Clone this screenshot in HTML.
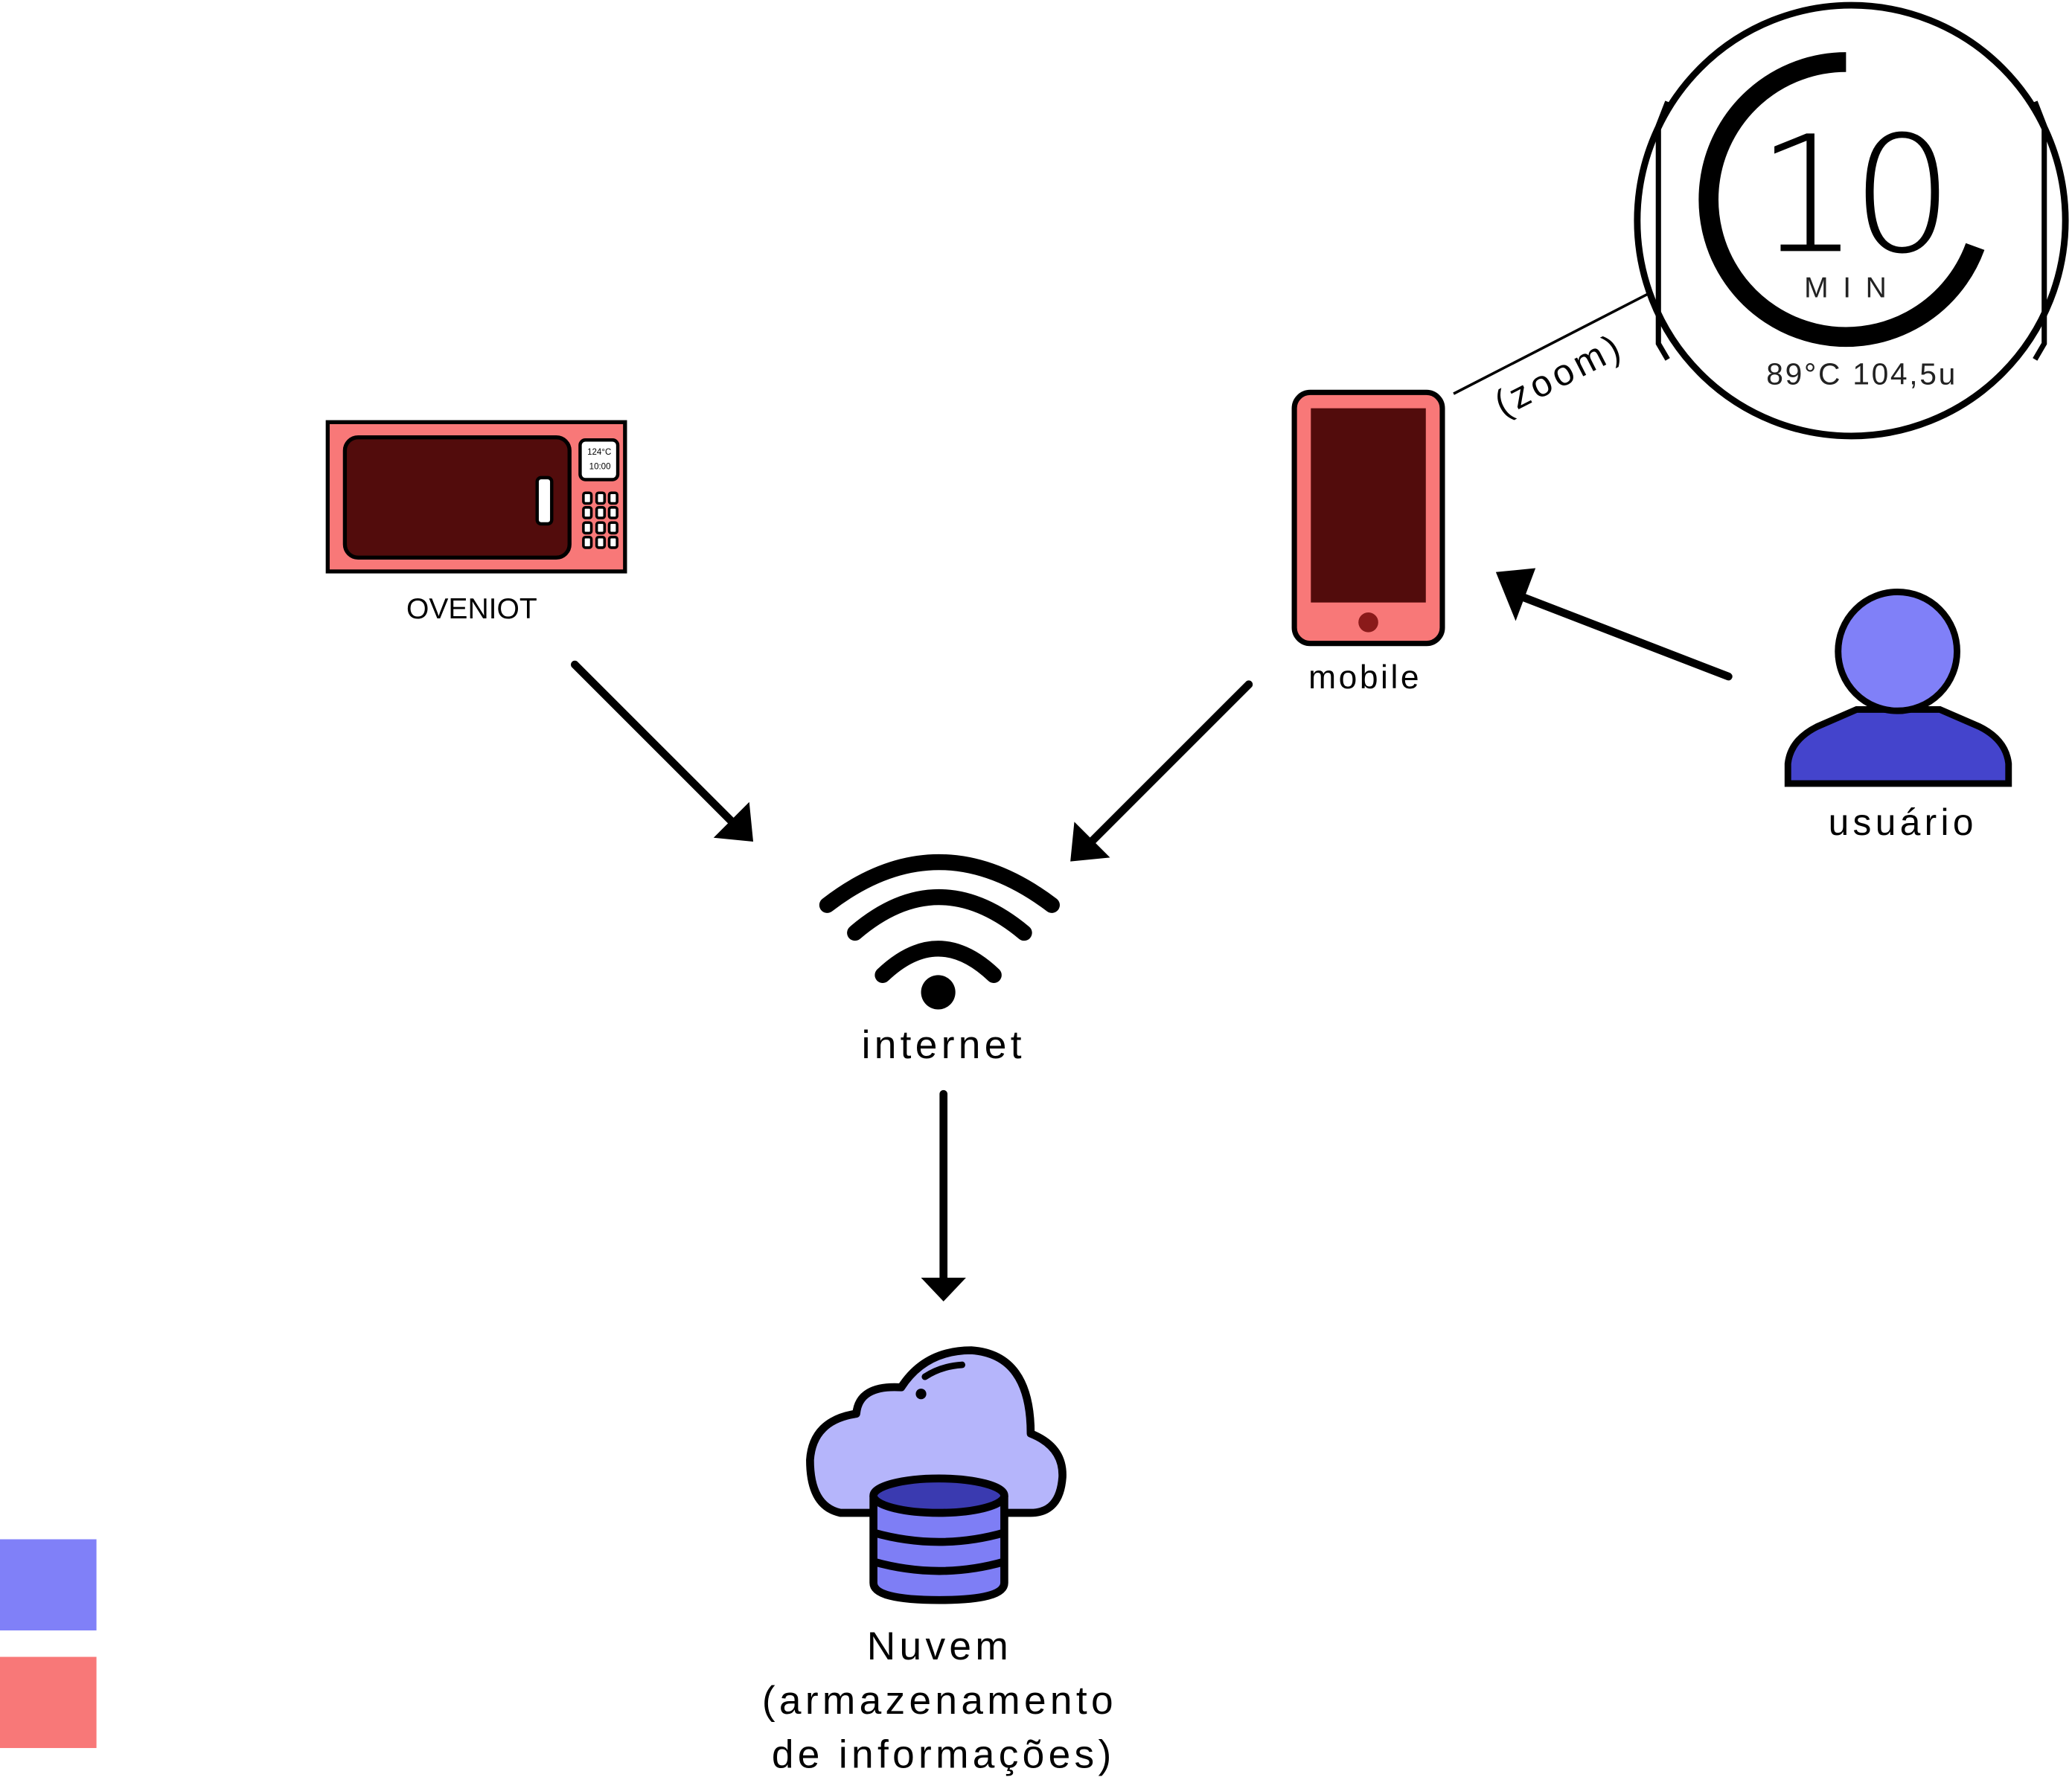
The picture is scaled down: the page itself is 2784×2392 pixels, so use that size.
<!DOCTYPE html>
<html><head><meta charset="utf-8"><style>
html,body{margin:0;padding:0;background:#fff;}
svg{display:block;}
text{font-family:"Liberation Sans",sans-serif;}
</style></head><body>
<svg width="2784" height="2392" viewBox="0 0 1568 1347.2" preserveAspectRatio="none" xmlns="http://www.w3.org/2000/svg">
<rect width="1568" height="1347.2" fill="#fff"/>
<!-- legend -->
<rect x="0" y="1165" width="73" height="69" fill="#8080f8"/>
<rect x="0" y="1254" width="73" height="69" fill="#f87878"/>

<!-- oven -->
<rect x="248" y="319.5" width="225" height="113" fill="#f87878" stroke="#000" stroke-width="3"/>
<rect x="261" y="331" width="170" height="91" rx="10" fill="#520c0c" stroke="#000" stroke-width="3"/>
<rect x="406.5" y="361.5" width="11" height="35" rx="3" fill="#fff" stroke="#000" stroke-width="2.5"/>
<rect x="439" y="333" width="28.5" height="30" rx="4" fill="#fff" stroke="#000" stroke-width="2.5"/>
<text x="453.5" y="344" font-size="6.5" text-anchor="middle">124°C</text>
<text x="454" y="355" font-size="6.5" text-anchor="middle">10:00</text>
<g fill="#fff" stroke="#000" stroke-width="2">
<rect x="441.5" y="373" width="6" height="8" rx="1.5"/><rect x="451.5" y="373" width="6" height="8" rx="1.5"/><rect x="461" y="373" width="6" height="8" rx="1.5"/>
<rect x="441.5" y="384" width="6" height="8" rx="1.5"/><rect x="451.5" y="384" width="6" height="8" rx="1.5"/><rect x="461" y="384" width="6" height="8" rx="1.5"/>
<rect x="441.5" y="395.5" width="6" height="8" rx="1.5"/><rect x="451.5" y="395.5" width="6" height="8" rx="1.5"/><rect x="461" y="395.5" width="6" height="8" rx="1.5"/>
<rect x="441.5" y="406.5" width="6" height="8" rx="1.5"/><rect x="451.5" y="406.5" width="6" height="8" rx="1.5"/><rect x="461" y="406.5" width="6" height="8" rx="1.5"/>
</g>
<text x="357" y="468" font-size="22" text-anchor="middle">OVENIOT</text>

<!-- phone -->
<rect x="979.5" y="297" width="112" height="190" rx="12" fill="#f87878" stroke="#000" stroke-width="4"/>
<rect x="992" y="309" width="87" height="147" fill="#520c0c"/>
<circle cx="1035.5" cy="471" r="7.5" fill="#8a1a1a"/>
<text x="1033" y="521" font-size="25" text-anchor="middle" letter-spacing="2">mobile</text>

<!-- zoom line and circle -->
<line x1="1100" y1="298" x2="1248" y2="222" stroke="#000" stroke-width="2"/>
<text transform="translate(1184,292) rotate(-27)" font-size="28" text-anchor="middle" letter-spacing="3">(zoom)</text>
<ellipse cx="1401" cy="167" rx="162" ry="163" fill="#fff" stroke="#000" stroke-width="5"/>
<path d="M1262 77 L1255 95 L1255 260 L1262 272" fill="none" stroke="#000" stroke-width="4"/>
<path d="M1540 77 L1547 95 L1547 260 L1540 272" fill="none" stroke="#000" stroke-width="4"/>
<path d="M1397 47 A104 104 0 1 0 1494.7 186.6" fill="none" stroke="#000" stroke-width="15"/>
<text x="1401" y="190" font-size="122" text-anchor="middle" letter-spacing="-6" style="font-family:'DejaVu Sans ExtraLight','DejaVu Sans',sans-serif;font-weight:200">10</text>
<text x="1402" y="225" font-size="22" text-anchor="middle" letter-spacing="11" fill="#222">MIN</text>
<text x="1409" y="291" font-size="23" text-anchor="middle" letter-spacing="1.5" fill="#222">89°C  104,5u</text>

<!-- user -->
<path d="M1353 593 L1353 578 Q1355 560 1375 550 L1405 537 L1468 537 L1498 550 Q1518 560 1520 578 L1520 593 Z" fill="#4444cc" stroke="#000" stroke-width="5"/>
<circle cx="1436" cy="493" r="45" fill="#8080f8" stroke="#000" stroke-width="5"/>
<text x="1440" y="632" font-size="28" text-anchor="middle" letter-spacing="3">usuário</text>

<!-- arrows -->
<g stroke="#000" stroke-width="6" stroke-linecap="round" fill="#000">
<line x1="435" y1="503" x2="556" y2="624"/>
<line x1="945" y1="518" x2="824" y2="639"/>
<line x1="1308" y1="512" x2="1150" y2="451"/>
<line x1="714" y1="828" x2="714" y2="970"/>
</g>
<g fill="#000">
<polygon points="570,637 540,634 567,607"/>
<polygon points="810,652 813,622 840,649"/>
<polygon points="1132,433 1162,430 1147,470"/>
<polygon points="714,985 697,967 731,967"/>
</g>

<!-- wifi -->
<g fill="none" stroke="#000" stroke-width="12" stroke-linecap="round">
<path d="M668 738 Q710 698 752 738"/>
<path d="M647 706 Q710 652 775 706"/>
<path d="M626 685 Q710 620 796 685"/>
</g>
<circle cx="710" cy="751" r="13" fill="#000"/>
<text x="714" y="801" font-size="30" text-anchor="middle" letter-spacing="3">internet</text>

<!-- cloud -->
<path d="M660 1145 L636 1145 Q613 1140 613 1105 Q615 1075 648 1070 Q650 1048 682 1050 Q700 1022 735 1022 Q780 1025 780 1085 Q805 1095 804 1118 Q802 1145 780 1145 Z" fill="#b5b5fb" stroke="#000" stroke-width="6" stroke-linejoin="round"/>
<path d="M700 1042 Q712 1034 728 1033" fill="none" stroke="#000" stroke-width="5" stroke-linecap="round"/>
<circle cx="697" cy="1055" r="4" fill="#000"/>
<path d="M661 1132 L661 1198 Q661 1211 711 1211 Q760 1211 760 1198 L760 1132" fill="#7e7ef5" stroke="#000" stroke-width="6"/>
<path d="M661 1160 Q711 1174 760 1160 M661 1182 Q711 1196 760 1182" fill="none" stroke="#000" stroke-width="6"/>
<ellipse cx="710.5" cy="1132" rx="49.5" ry="13" fill="#3a3ab0" stroke="#000" stroke-width="6"/>
<g font-size="30" text-anchor="middle" letter-spacing="3">
<text x="711" y="1256">Nuvem</text>
<text x="711" y="1297">(armazenamento</text>
<text x="714" y="1338">de informações)</text>
</g>
</svg>
</body></html>
